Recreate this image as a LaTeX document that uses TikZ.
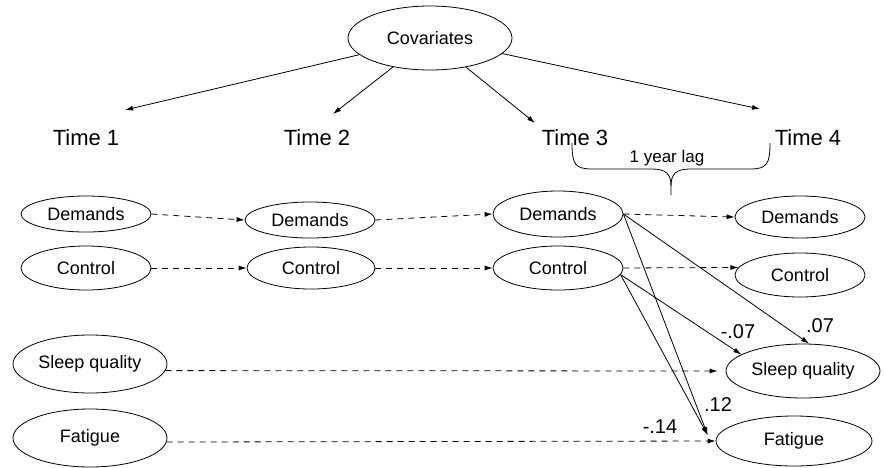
\documentclass[tikz,border=0pt]{standalone}
\usepackage{fontspec}
\setmainfont{Liberation Sans}
\usetikzlibrary{shapes.geometric,arrows.meta}
\begin{document}
\begin{tikzpicture}[x=1pt,y=-1pt,
  every node/.style={font=\fontsize{18}{20}\selectfont, inner sep=0pt},
  ov/.style={draw, ellipse, line width=0.8pt},
  arr/.style={-{Latex[length=8pt,width=5pt]}, line width=0.8pt},
  dsh/.style={arr, dash pattern=on 6pt off 5pt},
  tl/.style={font=\fontsize{22}{24}\selectfont, anchor=base},
  cf/.style={font=\fontsize{20}{22}\selectfont, anchor=base},
  lag/.style={font=\fontsize{17}{19}\selectfont, anchor=base}]
\useasboundingbox (0,0) rectangle (884,467);

% covariates
\node[ov, minimum width=164pt, minimum height=64pt] (cov) at (430,38) {Covariates};

% time labels
\node[tl] (t1) at (86,145) {Time 1};
\node[tl] (t2) at (317,145) {Time 2};
\node[tl] (t3) at (575,145) {Time 3};
\node[tl] (t4) at (808,145) {Time 4};

\coordinate (e1) at (125,110);
\coordinate (e2) at (333,114);
\coordinate (e3) at (535,123);
\coordinate (e4) at (760,109);
\draw[arr] (cov) -- (e1);
\draw[arr] (cov) -- (e2);
\draw[arr] (cov) -- (e3);
\draw[arr] (cov) -- (e4);

% brace
\draw[line width=0.8pt] (572,143) .. controls (572,164) and (575,169) .. (592,169)
  -- (652,169) .. controls (666,169) and (671,174) .. (671,186) -- (671,195);
\draw[line width=0.8pt] (770,143) .. controls (770,164) and (767,169) .. (750,169)
  -- (690,169) .. controls (676,169) and (671,174) .. (671,186);
\node[lag] (lagtxt) at (667,162) {1 year lag};

% demands
\node[ov, minimum width=130pt, minimum height=36pt] (d1) at (86,214) {Demands};
\node[ov, minimum width=130pt, minimum height=36pt] (d2) at (310,220) {Demands};
\node[ov, minimum width=130pt, minimum height=46pt] (d3) at (558,214) {Demands};
\node[ov, minimum width=130pt, minimum height=42pt] (d4) at (800,217) {Demands};

% control
\node[ov, minimum width=130pt, minimum height=44pt] (c1) at (86,268) {Control};
\node[ov, minimum width=128pt, minimum height=42pt] (c2) at (311,268) {Control};
\node[ov, minimum width=130pt, minimum height=44pt] (c3) at (558,268) {Control};
\node[ov, minimum width=130pt, minimum height=44pt] (c4) at (800,275) {Control};

% sleep / fatigue
\node[ov, minimum width=154pt, minimum height=58pt] (sq1) at (90,364) {Sleep quality};
\node[ov, minimum width=154pt, minimum height=58pt] (f1) at (90,438) {Fatigue};
\node[ov, minimum width=154pt, minimum height=54pt] (sq4) at (803,371) {Sleep quality};
\node[ov, minimum width=156pt, minimum height=50pt] (f4) at (794,441) {Fatigue};

% dashed stability paths
\draw[dsh] (d1.east) -- (d2.west);
\draw[dsh] (d2.east) -- (d3.west);
\draw[dsh] (d3.east) -- (d4.west);
\draw[dsh] (c1.east) -- (c2.west);
\draw[dsh] (c2.east) -- (c3.west);
\draw[dsh] (c3.east) -- (c4.173);
\draw[dsh, shorten >=8pt] (sq1.-5) -- (sq4.west);
\draw[dsh] (f1.-3) -- (f4.west);

% cross-lagged paths
\draw[arr] (d3.east) -- ([xshift=6pt]sq4.north);
\draw[arr] (d3.east) -- ([xshift=-8pt,yshift=6pt]f4.west);
\draw[arr] (c3.-6) -- (sq4.165);
\draw[arr] (c3.-6) -- ([xshift=-8pt,yshift=6pt]f4.west);

% coefficients
\node[cf] (k1) at (820,332) {.07};
\node[cf] (k2) at (738,338) {-.07};
\node[cf] (k3) at (718,411) {.12};
\node[cf] (k4) at (660,433) {-.14};
\end{tikzpicture}
\end{document}
